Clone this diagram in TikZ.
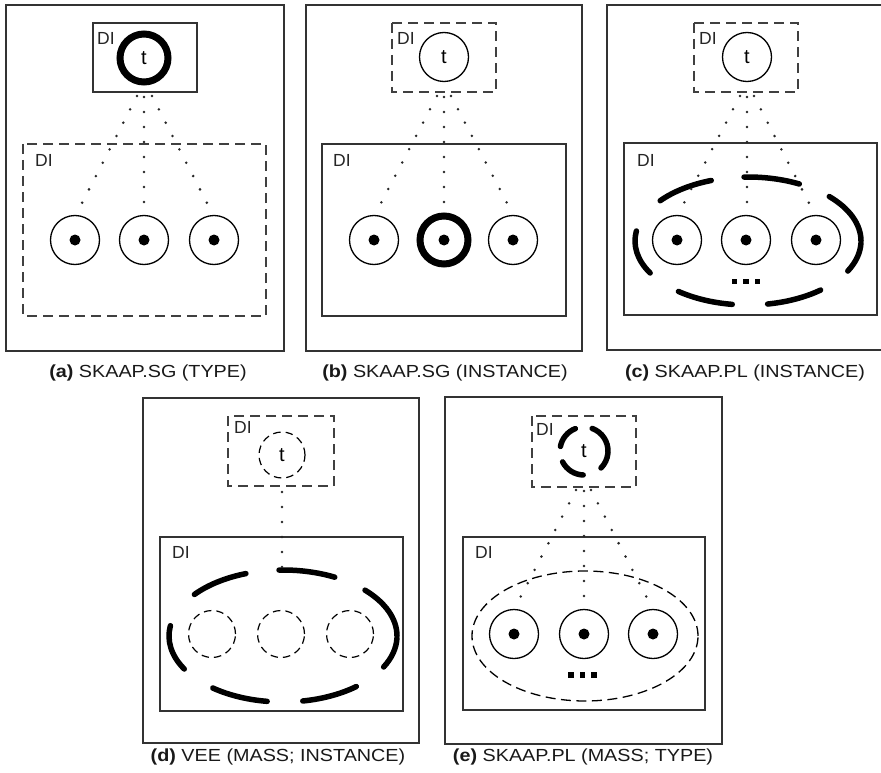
\documentclass[tikz,border=0pt]{standalone}
\usepackage{fontspec}
\setmainfont{Liberation Sans}
\usepackage{graphicx}
\begin{document}
\begin{tikzpicture}[x=1pt,y=-1pt,
  outer/.style={draw=black!80, line width=1.3pt},
  solidbox/.style={draw=black!80, line width=1.1pt},
  dashbox/.style={draw=black!75, line width=1.1pt, dash pattern=on 10pt off 6pt},
  tfont/.style={font=\fontsize{20}{22}\selectfont},
  ring/.style={circle, draw=black, line width=1.3pt, minimum size=49pt, inner sep=0pt, tfont},
  thickring/.style={circle, draw=black, line width=7pt, minimum size=48pt, inner sep=0pt, tfont},
  dashring/.style={circle, draw=black, line width=1.2pt, minimum size=47pt, inner sep=0pt, dash pattern=on 7.5pt off 5pt, tfont},
  plainring/.style={circle, minimum size=48pt, inner sep=0pt, tfont},
  thickdash/.style={line width=5.5pt, line cap=round, draw=black},
  dotline/.style={line width=2.8pt, line cap=round, dash pattern=on 0pt off 15pt, draw=black!85},
  lab/.style={anchor=base west, inner sep=0pt, font=\fontsize{17.5}{19}\selectfont, text=black!85},
  captext/.style={inner sep=0pt, font=\fontsize{17.5}{20}\selectfont, text=black!90},
  sq/.style={fill=black, minimum size=5.5pt, inner sep=0pt, rectangle}
]
\useasboundingbox (0,0) rectangle (881,773);
\fill[white] (0,0) rectangle (881,773);

% ---------------- panel (a)
\draw[outer] (6,5) rectangle (284,351);
\draw[solidbox] (93,23) rectangle (197,92);
\node[thickring] (a-t) at (144,58) {t};
\node[lab] (a-l1) at (97,45) {DI};
\draw[dashbox] (23,144) rectangle (266,316);
\node[lab] (a-l2) at (35,167) {DI};
\foreach \n/\x in {1/75,2/144,3/214}{
  \node[ring] (a-c\n) at (\x,240) {};
  \fill (a-c\n.center) circle[radius=5.5pt];
}
\coordinate (a-s1) at (137,96); \coordinate (a-e1) at (82,203);
\coordinate (a-s2) at (144,97); \coordinate (a-e2) at (144,203);
\coordinate (a-s3) at (152,96); \coordinate (a-e3) at (207,203);
\foreach \i in {1,2,3}{\draw[dotline] (a-s\i) -- (a-e\i);}
\node[captext] (a-cap) at (148,373) {\scalebox{1.13}[1]{\textbf{(a)} SKAAP.SG (TYPE)}};

% ---------------- panel (b)
\draw[outer] (306,5) rectangle (582,351);
\draw[dashbox] (392,23) rectangle (496,92);
\node[ring] (b-t) at (444,57) {t};
\node[lab] (b-l1) at (397,45) {DI};
\draw[solidbox] (322,144) rectangle (566,316);
\node[lab] (b-l2) at (333,167) {DI};
\node[ring] (b-c1) at (374,240) {};
\node[thickring] (b-c2) at (444,240) {};
\node[ring] (b-c3) at (513,240) {};
\foreach \n in {1,2,3}{\fill (b-c\n.center) circle[radius=5.5pt];}
\coordinate (b-s1) at (437,96); \coordinate (b-e1) at (381,203);
\coordinate (b-s2) at (444,97); \coordinate (b-e2) at (444,203);
\coordinate (b-s3) at (451,96); \coordinate (b-e3) at (507,203);
\foreach \i in {1,2,3}{\draw[dotline] (b-s\i) -- (b-e\i);}
\node[captext] (b-cap) at (445,373) {\scalebox{1.13}[1]{\textbf{(b)} SKAAP.SG (INSTANCE)}};

% ---------------- panel (c)
\draw[outer] (890,5) -- (607,5) -- (607,350) -- (890,350);
\draw[dashbox] (694,23) rectangle (798,92);
\node[ring] (c-t) at (747,57) {t};
\node[lab] (c-l1) at (699,45) {DI};
\draw[solidbox] (624,143) rectangle (877,315);
\node[lab] (c-l2) at (637,167) {DI};
\foreach \n/\x in {1/677,2/746,3/816}{
  \node[ring] (c-c\n) at (\x,240) {};
  \fill (c-c\n.center) circle[radius=5.5pt];
}
\coordinate (c-o) at (748,241);
\foreach \s/\e in {0/44,63/92,109/141,171/210,232/262,280/310,332/358}{
  \draw[thickdash] (c-o) ++(\s:113pt and 64pt) arc[start angle=\s, end angle=\e, x radius=113pt, y radius=64pt];
}
\node[sq] (c-q1) at (734.5,281.5) {};
\node[sq] (c-q2) at (746,281.5) {};
\node[sq] (c-q3) at (757.5,281.5) {};
\coordinate (c-s1) at (740,96); \coordinate (c-e1) at (684,203);
\coordinate (c-s2) at (747,97); \coordinate (c-e2) at (747,203);
\coordinate (c-s3) at (754,96); \coordinate (c-e3) at (809,203);
\foreach \i in {1,2,3}{\draw[dotline] (c-s\i) -- (c-e\i);}
\node[captext] (c-cap) at (745,373) {\scalebox{1.13}[1]{\textbf{(c)} SKAAP.PL (INSTANCE)}};

% ---------------- panel (d)
\draw[outer] (143,398) rectangle (419,743);
\draw[dashbox] (228,416) rectangle (334,486);
\node[dashring, minimum size=46pt] (d-t) at (282,455) {t};
\node[lab] (d-l1) at (234,433) {DI};
\draw[solidbox] (160,537) rectangle (403,711);
\node[lab] (d-l2) at (172,558) {DI};
\foreach \n/\x in {1/212,2/281,3/350}{
  \node[dashring] (d-c\n) at (\x,634) {};
}
\coordinate (d-o) at (283,636);
\foreach \s/\e in {0/44,63/92,109/141,171/210,232/262,280/310,332/358}{
  \draw[thickdash] (d-o) ++(\s:114pt and 66pt) arc[start angle=\s, end angle=\e, x radius=114pt, y radius=66pt];
}
\coordinate (d-s) at (282,492); \coordinate (d-e) at (282,567);
\draw[dotline] (d-s) -- (d-e);
\node[captext] (d-cap) at (278,757) {\scalebox{1.13}[1]{\textbf{(d)} VEE (MASS; INSTANCE)}};

% ---------------- panel (e)
\draw[outer] (445,397) rectangle (722,744);
\draw[dashbox] (532,416) rectangle (636,487);
\node[plainring] (e-t) at (584,451) {t};
\foreach \s/\e in {-45/-6,-3/70,111/169,207/268}{
  \draw[thickdash] (e-t.center) ++(\s:24pt) arc[start angle=\s, end angle=\e, radius=24pt];
}
\node[lab] (e-l1) at (536,435) {DI};
\draw[solidbox] (463,537) rectangle (705,710);
\node[lab] (e-l2) at (475,558) {DI};
\draw[black, line width=1.3pt, dash pattern=on 10pt off 5.5pt] (585,636) ellipse[x radius=113pt, y radius=65pt];
\foreach \n/\x in {1/514,2/584,3/653}{
  \node[ring] (e-c\n) at (\x,634) {};
  \fill (e-c\n.center) circle[radius=5.5pt];
}
\node[sq] (e-q1) at (571,675) {};
\node[sq] (e-q2) at (582.5,675) {};
\node[sq] (e-q3) at (594,675) {};
\coordinate (e-s1) at (576,490); \coordinate (e-e1) at (520,598);
\coordinate (e-s2) at (584,491); \coordinate (e-e2) at (584,598);
\coordinate (e-s3) at (591,490); \coordinate (e-e3) at (647,598);
\foreach \i in {1,2,3}{\draw[dotline] (e-s\i) -- (e-e\i);}
\node[captext] (e-cap) at (583,757) {\scalebox{1.13}[1]{\textbf{(e)} SKAAP.PL (MASS; TYPE)}};
\end{tikzpicture}
\end{document}
